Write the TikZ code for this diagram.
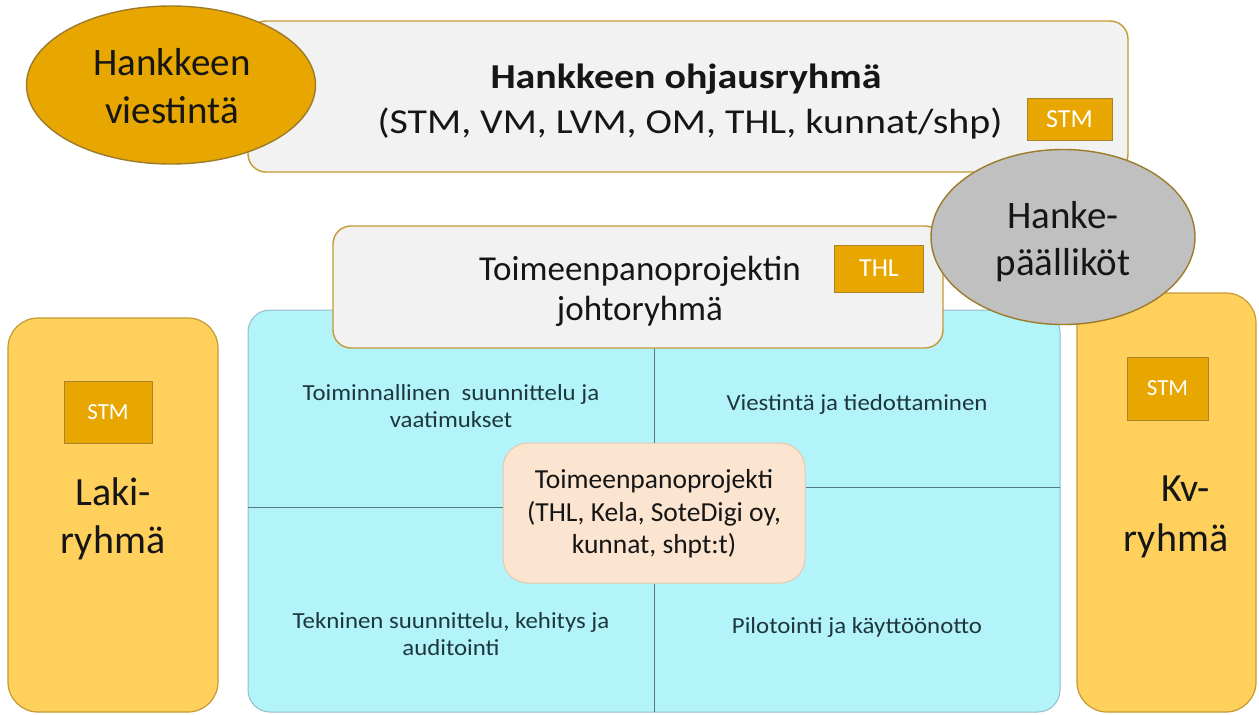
\documentclass[tikz,border=0pt]{standalone}
\usepackage{fontspec}
\setmainfont{Carlito}
\newfontfamily\widefont{Carlito}[FakeStretch=1.14]
\newfontfamily\quadfont{Carlito}[FakeStretch=1.08]
\usetikzlibrary{shapes.geometric}
\definecolor{gold}{RGB}{232,167,0}
\definecolor{goldedge}{RGB}{196,154,52}
\definecolor{panel}{RGB}{242,242,242}
\definecolor{cyanfill}{RGB}{178,244,250}
\definecolor{cyanedge}{RGB}{150,190,200}
\definecolor{side}{RGB}{255,208,92}
\definecolor{peach}{RGB}{251,228,208}
\definecolor{peachedge}{RGB}{232,200,170}
\definecolor{grayell}{RGB}{192,192,192}
\definecolor{divline}{RGB}{85,120,130}
\definecolor{txt}{RGB}{22,22,22}
\definecolor{quadtxt}{RGB}{30,55,62}
\begin{document}
\begin{tikzpicture}[x=1pt,y=-1pt,
  every node/.style={text=txt},
  panelbox/.style={draw=goldedge, fill=panel, rounded corners=18pt, line width=1.4pt},
  tagbox/.style={draw=goldedge!85!black, fill=gold, text=white, inner sep=0, line width=0.8pt},
  sidebox/.style={draw=goldedge, fill=side, rounded corners=30pt, line width=1.2pt},
  bigell/.style={ellipse, draw=goldedge!80!black, line width=1.4pt, inner sep=0},
  line/.style={anchor=base, inner sep=0},
  quad/.style={line, text=quadtxt, font=\quadfont\fontsize{23}{27}\selectfont},
  divider/.style={draw=divline, line width=1pt}
]
\useasboundingbox (0,0) rectangle (1259,715);
\fill[white] (0,0) rectangle (1259,715);

% cyan work area
\draw[draw=cyanedge, fill=cyanfill, rounded corners=22pt, line width=1pt] (248,310) rectangle (1060,712);
\coordinate (vtop) at (654,310);
\coordinate (vbot) at (654,712);
\coordinate (hl) at (248,507);
\coordinate (hr) at (1060,487);

% top steering group
\node[panelbox, inner sep=0, minimum width=880pt, minimum height=151pt] (ohjaus) at (688,96.5) {};
\node[line, font=\widefont\bfseries\fontsize{35}{40}\selectfont] (ohj1) at (686,88) {Hankkeen ohjausryhmä};
\node[line, font=\widefont\fontsize{35}{40}\selectfont] (ohj2) at (690,133) {(STM, VM, LVM, OM, THL, kunnat/shp)};
\node[tagbox, minimum width=85pt, minimum height=42pt, font=\fontsize{26}{28}\selectfont] (stmtop) at (1069.5,119) {STM};

% communication ellipse
\node[bigell, fill=gold, minimum width=289pt, minimum height=158pt] (viestinta) at (171,85) {};
\node[line, font=\fontsize{39}{44}\selectfont] (vi1) at (172,75) {Hankkeen};
\node[line, font=\fontsize{39}{44}\selectfont] (vi2) at (172,123) {viestintä};

% project box and dividers
\node[draw=peachedge, fill=peach, rounded corners=25pt, line width=1pt, inner sep=0,
      minimum width=302pt, minimum height=140pt] (proj) at (654,513) {};
\draw[divider] (vtop) -- (vtop |- proj.north);
\draw[divider] (vbot |- proj.south) -- (vbot);
\draw[divider] (hl) -- (hl -| proj.west);
\draw[divider] (hr -| proj.east) -- (hr);
\node[line, font=\fontsize{27.5}{32}\selectfont] (pr1) at (654,488) {Toimeenpanoprojekti};
\node[line, font=\fontsize{27.5}{32}\selectfont] (pr2) at (654,521) {(THL, Kela, SoteDigi oy,};
\node[line, font=\fontsize{27.5}{32}\selectfont] (pr3) at (654,553) {kunnat, shpt:t)};

% management group
\node[panelbox, inner sep=0, minimum width=610pt, minimum height=122pt] (johto) at (638,287) {};
\node[line, font=\fontsize{35}{40}\selectfont] (jo1) at (640,280) {Toimeenpanoprojektin};
\node[line, font=\fontsize{35}{40}\selectfont] (jo2) at (640,320) {johtoryhmä};
\node[tagbox, minimum width=89pt, minimum height=47pt, font=\fontsize{26}{28}\selectfont] (thl) at (879,268.5) {THL};

% quadrant texts
\node[quad] (q1a) at (451,400) {Toiminnallinen\ \ suunnittelu ja};
\node[quad] (q1b) at (451,427) {vaatimukset};
\node[quad] (q2) at (857,410) {Viestintä ja tiedottaminen};
\node[quad] (q3a) at (451,628) {Tekninen suunnittelu, kehitys ja};
\node[quad] (q3b) at (451,655) {auditointi};
\node[quad] (q4) at (857,633) {Pilotointi ja käyttöönotto};

% side groups
\node[sidebox, inner sep=0, minimum width=210pt, minimum height=394pt] (laki) at (113,515) {};
\node[tagbox, minimum width=88pt, minimum height=62pt, font=\fontsize{23}{25}\selectfont] (stmlaki) at (108,412) {STM};
\node[line, font=\fontsize{40}{46}\selectfont] (la1) at (113,505) {Laki-};
\node[line, font=\fontsize{40}{46}\selectfont] (la2) at (113,553) {ryhmä};

\node[sidebox, inner sep=0, minimum width=179pt, minimum height=419pt] (kv) at (1166.5,502.5) {};
\node[tagbox, minimum width=81pt, minimum height=63pt, font=\fontsize{23}{25}\selectfont] (stmkv) at (1167.5,388.5) {STM};
\node[line, font=\fontsize{40}{46}\selectfont] (kv1) at (1186,501) {Kv-};
\node[line, font=\fontsize{40}{46}\selectfont] (kv2) at (1176,551) {ryhmä};

% project managers
\node[bigell, fill=grayell, minimum width=264pt, minimum height=175pt] (paallikot) at (1063,237) {};
\node[line, font=\fontsize{39}{44}\selectfont] (pa1) at (1063,228) {Hanke-};
\node[line, font=\fontsize{39}{44}\selectfont] (pa2) at (1063,275) {päälliköt};
\end{tikzpicture}
\end{document}
